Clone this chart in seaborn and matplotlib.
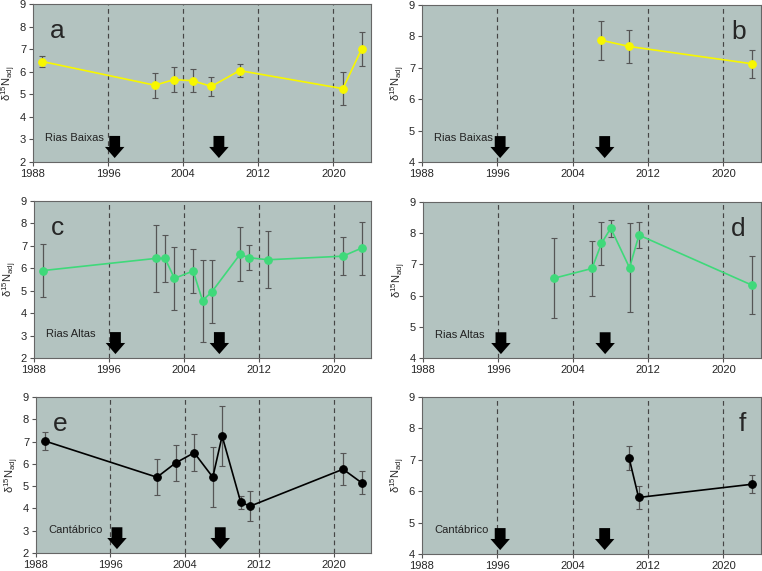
import matplotlib
matplotlib.use("Agg")
import matplotlib.pyplot as plt
import seaborn as sns
import pandas as pd

# data (mean +/- sd of d15N adj per year)
years_a = [1989, 2001, 2003, 2005, 2007, 2010, 2021, 2023]
mean_a = [6.45, 5.4, 5.65, 5.6, 5.35, 6.05, 5.25, 7.0]
sd_a = [0.23, 0.55, 0.55, 0.5, 0.43, 0.28, 0.72, 0.75]

years_b = [2007, 2010, 2023]
mean_b = [7.88, 7.68, 7.13]
sd_b = [0.62, 0.52, 0.45]

years_c = [1989, 2001, 2002, 2003, 2005, 2006, 2007, 2010, 2011, 2013, 2021, 2023]
mean_c = [5.9, 6.44, 6.44, 5.55, 5.88, 4.56, 4.95, 6.62, 6.47, 6.38, 6.54, 6.9]
sd_c = [1.19, 1.48, 1.06, 1.4, 0.96, 1.83, 1.4, 1.2, 0.55, 1.28, 0.85, 1.18]

years_d = [2002, 2006, 2007, 2008, 2010, 2011, 2023]
mean_d = [6.56, 6.87, 7.67, 8.16, 6.89, 7.94, 6.34]
sd_d = [1.28, 0.88, 0.7, 0.27, 1.43, 0.43, 0.92]

years_e = [1989, 2001, 2003, 2005, 2007, 2008, 2010, 2011, 2021, 2023]
mean_e = [7.02, 5.4, 6.04, 6.5, 5.4, 7.25, 4.28, 4.1, 5.76, 5.15]
sd_e = [0.4, 0.81, 0.82, 0.82, 1.35, 1.35, 0.29, 0.67, 0.72, 0.52]

years_f = [2010, 2011, 2023]
mean_f = [7.05, 5.8, 6.22]
sd_f = [0.38, 0.38, 0.29]

panel_letters = ["a", "b", "c", "d", "e", "f"]
regions = ["Rias Baixas", "Rias Baixas", "Rias Altas", "Rias Altas", "Cantábrico", "Cantábrico"]
decade_lines = [1996, 2004, 2012, 2020]
arrow_years_left = [1996.7, 2007.8]
arrow_years_right = [1996.3, 2007.4]
x_ticks = [1988, 1996, 2004, 2012, 2020]

sns.set_theme(style="ticks")
plt.rcParams["font.family"] = ["Liberation Sans", "DejaVu Sans"]
plt.rcParams["mathtext.fontset"] = "custom"
plt.rcParams["mathtext.rm"] = "Liberation Sans"
plt.rcParams["mathtext.it"] = "Liberation Sans"

W, H = 762, 571
fig = plt.figure(figsize=(W / 100, H / 100), dpi=100)

# pixel boxes (left, top, right, bottom) of each panel
boxes = [
    (33, 4, 371, 162), (422, 5, 761, 162),
    (34, 201, 371, 358), (423, 202, 761, 358),
    (36, 397, 371, 553), (422, 397, 761, 554),
]

panels = [
    (years_a, mean_a, sd_a), (years_b, mean_b, sd_b),
    (years_c, mean_c, sd_c), (years_d, mean_d, sd_d),
    (years_e, mean_e, sd_e), (years_f, mean_f, sd_f),
]
colors = ["#f7f700", "#f7f700", "#3fd97a", "#3fd97a", "black", "black"]
bg = "#b3c3c0"

for i, ((yrs, m, s), box) in enumerate(zip(panels, boxes)):
    l, t, r, b = box
    ax = fig.add_axes([l / W, 1 - b / H, (r - l) / W, (b - t) / H])
    ax.set_facecolor(bg)
    ymin = 2 if i % 2 == 0 else 4

    for xv in decade_lines:
        ax.axvline(xv, color="#454545", ls=(0, (4, 3)), lw=0.85, zorder=1)

    df = pd.DataFrame({"year": yrs, "d15N": m, "sd": s})
    ax.errorbar(df["year"], df["d15N"], yerr=df["sd"], fmt="none",
                ecolor="#555555", elinewidth=0.9, capsize=2, capthick=0.8, zorder=2)
    sns.lineplot(data=df, x="year", y="d15N", ax=ax, color=colors[i],
                 marker="o", markersize=5.5, markeredgecolor=colors[i],
                 linewidth=1.2, zorder=3)

    arrow_years = arrow_years_left if i % 2 == 0 else arrow_years_right
    for xa in arrow_years:
        ax.annotate("", xy=(xa, 0.025), xytext=(xa, 0.165),
                    xycoords=ax.get_xaxis_transform(),
                    textcoords=ax.get_xaxis_transform(),
                    arrowprops=dict(arrowstyle="simple,head_width=1.4,head_length=0.8,tail_width=0.78",
                                    color="black", lw=0, shrinkA=0, shrinkB=0,
                                    mutation_scale=10), zorder=4)

    ax.text(0.036, 0.15, regions[i], transform=ax.transAxes, fontsize=8,
            ha="left", va="center", color="#222222")
    if i % 2 == 0:
        ax.text(0.05, 0.83, panel_letters[i], transform=ax.transAxes,
                fontsize=19, ha="left", va="center")
    else:
        ax.text(0.955, 0.83, panel_letters[i], transform=ax.transAxes,
                fontsize=19, ha="right", va="center")

    ax.set_xlim(1988, 2024)
    ax.set_ylim(ymin, 9)
    ax.set_xticks(x_ticks)
    ax.set_yticks(range(ymin, 10))
    ax.tick_params(labelsize=8, length=3, width=0.8, color="#555555", pad=2)
    ax.set_xlabel("")
    ax.set_ylabel("δ$^{15}$N$_{adj}$", fontsize=8, labelpad=1)
    for sp in ax.spines.values():
        sp.set_color("#666666")
        sp.set_linewidth(0.8)

fig.savefig("out.png", dpi=100)
